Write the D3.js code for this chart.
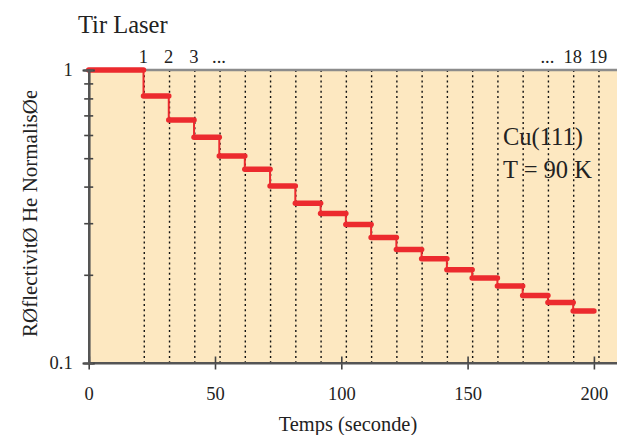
<!DOCTYPE html>
<html>
<head>
<meta charset="utf-8">
<script src="https://cdn.jsdelivr.net/npm/d3@7"></script>
<style>
    body { margin: 0; background: #fff; }
    svg { display: block; font-family: "Liberation Serif", "Times New Roman", serif; }
</style>
</head>
<body>
<div id="chart"></div>
<script>
// laser shot times (s) and their labels above the plot
var shotTimes = [22, 32, 42, 52, 62, 72, 82, 92, 102, 112, 122, 132, 142, 152, 162, 172, 182, 192, 202];
var shotLabels = [
    { t: 22, label: "1" }, { t: 32, label: "2" }, { t: 42, label: "3" }, { t: 52, label: "..." },
    { t: 182, label: "..." }, { t: 192, label: "18" }, { t: 202, label: "19" }
];

// start time of each plateau and its normalised He reflectivity
var stepTimes = [0, 21.7, 31.7, 41.7, 51.7, 61.8, 71.8, 81.8, 91.8, 101.8, 111.8, 121.8, 131.8, 141.8, 151.8, 161.8, 171.8, 181.8, 191.8];
var stepLevels = [1.0, 0.815, 0.675, 0.589, 0.509, 0.458, 0.402, 0.351, 0.324, 0.297, 0.268, 0.244, 0.227, 0.208, 0.195, 0.183, 0.170, 0.161, 0.1505];
var endTime = 200;

var xTicks = [0, 50, 100, 150, 200];
var yMajor = [0.1, 1];
var yMinor = [0.2, 0.3, 0.4, 0.5, 0.6, 0.7, 0.8, 0.9];

var width = 617, height = 435;
var plotLeft = 88.7, plotTop = 70, plotBottom = 363;

var svg = d3.select("#chart").append("svg")
    .attr("width", width)
    .attr("height", height);

var x = d3.scaleLinear().domain([0, 210]).range([plotLeft, plotLeft + 210 * 2.526]);
var y = d3.scaleLog().domain([0.1, 1]).range([plotBottom, plotTop]);

// plot background
svg.append("rect")
    .attr("x", x(0)).attr("y", y(1))
    .attr("width", width - x(0)).attr("height", y(0.1) - y(1))
    .attr("fill", "#fde8c1");

// dotted lines at every laser shot
svg.selectAll("line.shot")
    .data(shotTimes)
    .enter().append("line")
    .attr("class", "shot")
    .attr("x1", function(d) { return x(d); })
    .attr("x2", function(d) { return x(d); })
    .attr("y1", y(1))
    .attr("y2", y(0.1))
    .attr("stroke", "#111")
    .attr("stroke-width", 1.4)
    .attr("stroke-dasharray", "2,3.2");

// frame: grey top line
svg.append("line")
    .attr("x1", x(0)).attr("x2", width)
    .attr("y1", y(1)).attr("y2", y(1))
    .attr("stroke", "#8c8c8c").attr("stroke-width", 2.5);

// data: thin step line + thick plateaus
var pts = stepLevels.map(function(v, i) { return { t: stepTimes[i], v: v }; });
pts.push({ t: endTime, v: stepLevels[stepLevels.length - 1] });

var line = d3.line()
    .x(function(d) { return x(d.t); })
    .y(function(d) { return y(d.v); })
    .curve(d3.curveStepAfter);

svg.append("path")
    .datum(pts)
    .attr("d", line)
    .attr("fill", "none")
    .attr("stroke", "#ec2a2e")
    .attr("stroke-width", 2);

svg.selectAll("line.plateau")
    .data(stepLevels)
    .enter().append("line")
    .attr("class", "plateau")
    .attr("x1", function(d, i) { return x(stepTimes[i]); })
    .attr("x2", function(d, i) { return x(i + 1 < stepTimes.length ? stepTimes[i + 1] : endTime); })
    .attr("y1", function(d) { return y(d); })
    .attr("y2", function(d) { return y(d); })
    .attr("stroke", "#ec2a2e")
    .attr("stroke-width", 5.5)
    .attr("stroke-linecap", "round");

// axes
var gx = svg.append("g")
    .attr("transform", "translate(0," + plotBottom + ")")
    .call(d3.axisBottom(x).tickValues(xTicks).tickSize(6.5).tickPadding(17).tickFormat(d3.format("d")));
svg.append("g")
    .attr("transform", "translate(0," + plotBottom + ")")
    .call(d3.axisTop(x).tickValues(xTicks).tickSize(6.5).tickFormat(""));
gx.select(".domain").attr("d", "M" + x(0) + ",0H" + width);

var gy = svg.append("g")
    .attr("transform", "translate(" + plotLeft + ",0)")
    .call(d3.axisLeft(y).tickValues(yMajor).tickSize(6).tickPadding(10).tickFormat(function(d) { return d === 1 ? "1" : "0.1"; }));
svg.append("g")
    .attr("transform", "translate(" + plotLeft + ",0)")
    .call(d3.axisRight(y).tickValues(yMajor).tickSize(6).tickFormat(""));
svg.append("g")
    .attr("transform", "translate(" + plotLeft + ",0)")
    .call(d3.axisLeft(y).tickValues(yMinor).tickSize(4.5).tickFormat(""));
svg.append("g")
    .attr("transform", "translate(" + plotLeft + ",0)")
    .call(d3.axisRight(y).tickValues(yMinor).tickSize(4.5).tickFormat(""));

svg.selectAll(".domain").attr("stroke", "#555").attr("stroke-width", 2);
svg.selectAll(".tick line").attr("stroke", "#444").attr("stroke-width", 1.6);
svg.selectAll(".tick text")
    .attr("fill", "#222")
    .style("font-size", "18.5px")
    .style("font-family", "Liberation Serif");

// shot numbers above the plot
svg.selectAll("text.shotlabel")
    .data(shotLabels)
    .enter().append("text")
    .attr("class", "shotlabel")
    .attr("x", function(d) { return x(d.t) - 1; })
    .attr("y", 62.5)
    .attr("text-anchor", "middle")
    .attr("fill", "#222")
    .style("font-size", "18.5px")
    .text(function(d) { return d.label; });

svg.append("text")
    .attr("x", 78)
    .attr("y", 33)
    .attr("fill", "#222")
    .style("font-size", "24.5px")
    .text("Tir Laser");

svg.append("text")
    .attr("x", 503)
    .attr("y", 145)
    .attr("fill", "#222")
    .style("font-size", "24.5px")
    .text("Cu(111)");

svg.append("text")
    .attr("x", 503)
    .attr("y", 178)
    .attr("fill", "#222")
    .style("font-size", "24.5px")
    .text("T = 90 K");

svg.append("text")
    .attr("x", 348)
    .attr("y", 431)
    .attr("text-anchor", "middle")
    .attr("fill", "#222")
    .style("font-size", "20.4px")
    .text("Temps (seconde)");

// y label, cut off at the top like the original
svg.append("clipPath").attr("id", "ylab-clip")
    .append("rect").attr("x", 0).attr("y", 91).attr("width", 60).attr("height", 300);
svg.append("g")
    .attr("clip-path", "url(#ylab-clip)")
    .append("text")
    .attr("transform", "translate(37,337) rotate(-90)")
    .attr("fill", "#222")
    .style("font-size", "21px")
    .text("RØflectivitØ He NormalisØe");
</script>
</body>
</html>
